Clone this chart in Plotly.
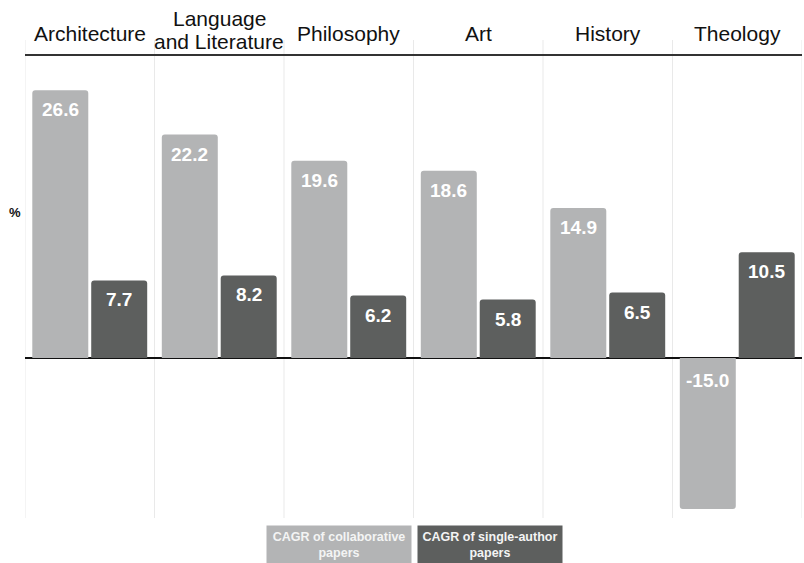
import plotly.graph_objects as go

# Compound annual growth rate (%) by discipline
disciplines = ["Architecture", "Language<br>and Literature", "Philosophy", "Art", "History", "Theology"]
collaborative = [26.6, 22.2, 19.6, 18.6, 14.9, -15.0]
single_author = [7.7, 8.2, 6.2, 5.8, 6.5, 10.5]

series_names = ["CAGR of collaborative<br>papers", "CAGR of single-author<br>papers"]
colors = ["#b3b4b5", "#5d5f5e"]

FONT = "Helvetica Neue, Helvetica, Arial, Liberation Sans, sans-serif"
BAR_GAP = 0.09
GROUP_GAP = 0.05
PLOT_H = 563 - 56 - 45  # plot area height in px


def px_above_top(px):
    """Paper y for a point `px` pixels above the plot area's top edge."""
    return 1 + px / PLOT_H


fig = go.Figure()
for vals, name, color in zip([collaborative, single_author], series_names, colors):
    fig.add_trace(go.Bar(
        x=list(range(len(disciplines))), y=vals, name=name,
        marker=dict(color=color, line=dict(width=0)),
        showlegend=False, hoverinfo="y",
    ))

annotations = []

# discipline headers above the top axis line; wrapped names stack upward
# with a tight line spacing
for i, name in enumerate(disciplines):
    lines = name.split("<br>")
    for j, line in enumerate(lines):
        if len(lines) == 1:
            up = 22.3
        else:
            up = 14.3 + (len(lines) - 1 - j) * 23
        annotations.append(dict(
            x=i, y=px_above_top(up), xref="x", yref="paper", text=line,
            showarrow=False, xanchor="center", yanchor="middle",
            font=dict(family=FONT, size=21, color="#111"),
        ))

# value labels inside each bar, near its outer end for positive values
# and just under the zero line for negative ones
half_slot = (1 - BAR_GAP) / 4
for k, vals in enumerate([collaborative, single_author]):
    offset = -half_slot if k == 0 else half_slot
    for i, v in enumerate(vals):
        annotations.append(dict(
            x=i + offset, y=v if v >= 0 else 0, xref="x", yref="y",
            text=f"{v:.1f}", showarrow=False, yanchor="top",
            yshift=-7 if v >= 0 else -10,
            font=dict(family=FONT, size=19, color="white", weight="bold"),
        ))

# "%" unit label on the left
annotations.append(dict(
    x=-0.013, y=0.662, xref="paper", yref="paper", text="%",
    showarrow=False, xanchor="center", yanchor="middle",
    font=dict(family=FONT, size=13, color="#111", weight="bold"),
))

# legend boxes under the plot
for cx, name, color in zip([0.404, 0.598], series_names, colors):
    annotations.append(dict(
        x=cx, y=-0.058, xref="paper", yref="paper", text=name,
        showarrow=False, xanchor="center", yanchor="middle",
        width=144, height=38, bgcolor=color, borderpad=0,
        font=dict(family=FONT, size=12.5, color="#f4f4f4", weight="bold"),
    ))

# vertical separators between discipline groups
shapes = []
for b in range(len(disciplines) + 1):
    shapes.append(dict(
        type="line", xref="x", yref="paper", x0=b - 0.5, x1=b - 0.5,
        y0=0, y1=px_above_top(16), line=dict(color="#e9e9e9", width=1),
        layer="below",
    ))

fig.update_layout(
    width=804, height=563,
    margin=dict(l=25, r=2, t=56, b=45, autoexpand=False),
    paper_bgcolor="white", plot_bgcolor="white",
    barmode="group", bargap=BAR_GAP, bargroupgap=GROUP_GAP,
    barcornerradius=3,
    font=dict(family=FONT, color="#111"),
    annotations=annotations, shapes=shapes,
    xaxis=dict(
        side="top", range=[-0.5, len(disciplines) - 0.5],
        showgrid=False, zeroline=False, automargin=False,
        showline=True, linecolor="#333", linewidth=1.5,
        ticks="", showticklabels=False,
    ),
    yaxis=dict(
        range=[-15.9, 30], showgrid=False, showticklabels=False,
        zeroline=True, zerolinecolor="#111", zerolinewidth=1.5,
        showline=False, ticks="", automargin=False,
    ),
)

fig.write_html("out.html")
